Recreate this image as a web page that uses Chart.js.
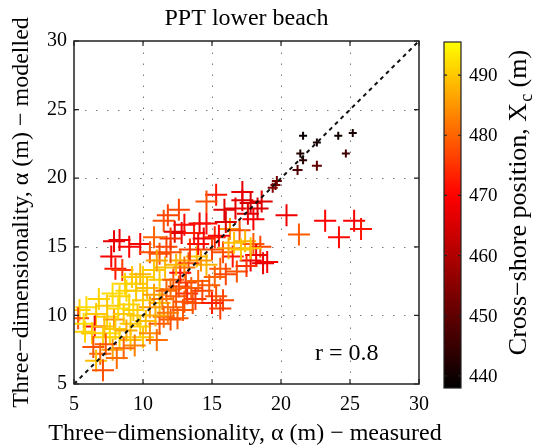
<!DOCTYPE html>
<html>
<head>
<meta charset="utf-8">
<script src="https://cdn.jsdelivr.net/npm/chart.js@4.4.0/dist/chart.umd.min.js"></script>
<style>
  html, body { margin: 0; padding: 0; background: #fff; }
  #wrap { width: 538px; height: 445px; position: relative; }
</style>
</head>
<body>
<div id="wrap"><canvas id="chart"></canvas></div>
<script>
// measured vs modelled three-dimensionality (m), coloured by cross-shore position Xc (m)
var measured = [
  15.3, 14.6, 17.2, 17.8, 16.7, 17.6, 12.6, 11.5, 11.8, 14.1,
  14.6, 12.3, 12.8, 13.7, 14.4, 15.2, 16.3, 17.0, 17.4, 18.0,
  18.5, 18.2, 18.7, 19.0, 17.8, 16.5, 15.8, 15.0, 13.9, 14.6,
  15.6, 13.3, 12.7, 12.0, 11.2, 11.6, 10.8, 10.0, 9.5, 8.8,
  8.3, 11.2, 12.2, 12.7, 11.7, 12.4, 13.2, 13.6, 12.9, 12.2,
  11.2, 10.5, 10.0, 15.3, 15.8, 15.0, 15.6, 7.9, 8.3, 9.8,
  7.7, 8.0, 8.5, 10.5, 11.7, 9.5, 5.4, 5.9, 6.6, 7.4,
  7.9, 8.6, 9.3, 5.3, 5.7, 6.5, 6.3, 7.1, 6.4, 6.9,
  6.6, 7.1, 7.6, 8.3, 9.1, 10.0, 9.8, 10.5, 11.2, 12.0,
  11.5, 11.0, 9.1, 5.8, 10.3, 10.8, 11.4, 12.0, 12.6, 13.1,
  13.5, 14.0, 14.3, 13.8, 13.0, 12.5, 11.8, 10.9, 10.2, 9.6,
  9.0, 8.2, 7.4, 6.8, 7.2, 8.0, 8.8, 9.4, 8.6, 7.8,
  7.3, 8.1, 14.8, 15.2, 16.0, 16.8, 17.5, 16.2, 17.1, 14.2,
  13.0, 12.4, 11.0, 9.8, 9.2, 8.7, 7.8, 13.4, 14.0, 15.5,
  16.0, 13.0, 12.0, 10.8, 9.0, 18.3, 18.6, 17.2, 18.0, 16.6,
  17.8, 15.9, 20.4, 21.3, 23.2, 24.2, 25.3, 25.8, 19.7, 19.4,
  19.6, 21.6, 22.6, 24.15, 25.2, 21.4, 21.6, 24.7, 21.2, 22.6
];
var modelled = [
  18.8, 18.3, 18.4, 18.2, 17.8, 17.4, 17.7, 16.9, 17.3, 16.7,
  16.7, 16.1, 16.0, 16.0, 15.6, 15.7, 16.3, 16.2, 15.4, 15.2,
  15.0, 14.4, 13.8, 13.9, 14.0, 14.3, 14.6, 14.8, 14.3, 13.7,
  13.4, 13.8, 14.0, 14.6, 14.5, 13.5, 13.3, 12.8, 12.3, 11.8,
  11.4, 12.6, 12.6, 13.1, 11.8, 11.4, 11.6, 10.9, 10.4, 10.6,
  10.9, 10.6, 11.1, 11.4, 11.1, 10.9, 10.5, 15.4, 15.5, 15.2,
  14.3, 13.4, 13.3, 14.6, 15.0, 11.8, 10.4, 10.6, 10.1, 9.9,
  9.7, 10.1, 10.4, 9.8, 9.4, 9.2, 8.7, 8.4, 7.7, 7.2,
  6.7, 6.0, 8.7, 8.4, 8.2, 8.4, 9.2, 8.7, 9.4, 9.7,
  9.9, 8.2, 9.4, 8.8, 12.0, 11.5, 11.2, 11.9, 12.1, 12.4,
  12.0, 12.5, 11.8, 11.2, 11.0, 9.8, 10.2, 10.0, 9.6, 10.0,
  10.8, 10.5, 10.7, 11.2, 9.2, 9.0, 8.9, 7.8, 7.6, 7.5,
  7.9, 6.9, 12.2, 12.8, 13.0, 13.2, 13.6, 14.9, 14.8, 14.0,
  13.5, 13.7, 14.0, 13.0, 12.8, 12.3, 11.6, 14.8, 15.2, 15.8,
  16.8, 16.6, 15.6, 15.7, 15.0, 17.8, 18.3, 19.0, 17.0, 15.3,
  14.9, 17.7, 17.3, 15.9, 16.9, 15.7, 16.9, 16.3, 19.8, 19.3,
  19.5, 23.1, 22.6, 23.1, 23.3, 21.8, 21.3, 21.8, 20.6, 20.9
];
var crossShore = [
  472, 478, 466, 465, 467, 466, 477, 478, 477, 467,
  471, 466, 467, 473, 468, 474, 485, 478, 488, 479,
  477, 468, 467, 469, 468, 472, 478, 477, 489, 488,
  479, 478, 487, 478, 478, 489, 490, 491, 490, 492,
  491, 490, 479, 472, 480, 479, 474, 478, 479, 480,
  489, 485, 490, 478, 477, 473, 476, 467, 468, 469,
  469, 472, 476, 478, 477, 490, 491, 492, 490, 491,
  485, 490, 491, 478, 492, 468, 490, 491, 478, 480,
  489, 478, 492, 491, 489, 490, 491, 484, 479, 478,
  480, 481, 490, 491, 489, 486, 482, 481, 478, 476,
  479, 480, 477, 476, 478, 479, 482, 487, 489, 490,
  491, 492, 490, 491, 489, 490, 487, 483, 480, 486,
  479, 481, 479, 480, 477, 478, 475, 486, 490, 485,
  482, 488, 486, 488, 490, 491, 492, 476, 471, 470,
  466, 471, 475, 480, 470, 465, 466, 467, 469, 489,
  490, 466, 468, 479, 470, 471, 469, 472, 452, 455,
  453, 439, 441, 440, 441, 442, 443, 446, 448, 450
];
var axisTicks = [5, 10, 15, 20, 25, 30];
var oneToOne = [5, 30];
var colorTicks = [440, 450, 460, 470, 480, 490];
var colorRange = [438, 495.5];
var rValue = 0.8;

var serif = '"Liberation Serif", "DejaVu Serif", serif';

// truncated "hot" colormap: black -> red -> yellow
function hotColor(v) {
  var t = (v - colorRange[0]) / (colorRange[1] - colorRange[0]);
  t = Math.max(0, Math.min(1, t));
  var r = Math.min(1, t / 0.557);
  var g = Math.max(0, (t - 0.557) / 0.443);
  return 'rgb(' + Math.round(r * 255) + ',' + Math.round(g * 255) + ',0)';
}
function crossSize(v) {
  if (v < 447) return 4;
  if (v < 458) return 5;
  return 11;
}

var points = measured.map(function (x, i) { return { x: x, y: modelled[i] }; });
var colors = crossShore.map(hotColor);
var sizes = crossShore.map(crossSize);

// colorbar box (pixels)
var cb = { left: 444, right: 461, top: 42, bottom: 388 };
function cbPixel(v) {
  return cb.bottom - (v - colorRange[0]) / (colorRange[1] - colorRange[0]) * (cb.bottom - cb.top);
}

var decorPlugin = {
  id: 'decor',
  beforeDatasetsDraw: function (chart) {
    var ctx = chart.ctx, a = chart.chartArea;
    var xs = chart.scales.x, ys = chart.scales.y;
    ctx.save();
    ctx.strokeStyle = '#7a7a7a';
    ctx.lineWidth = 1;
    ctx.setLineDash([1.5, 9.5]);
    axisTicks.forEach(function (t) {
      if (t === axisTicks[0] || t === axisTicks[axisTicks.length - 1]) return;
      var px = Math.round(xs.getPixelForValue(t)) + 0.5;
      ctx.beginPath(); ctx.moveTo(px, a.bottom); ctx.lineTo(px, a.top); ctx.stroke();
      var py = Math.round(ys.getPixelForValue(t)) + 0.5;
      ctx.beginPath(); ctx.moveTo(a.left, py); ctx.lineTo(a.right, py); ctx.stroke();
    });
    ctx.restore();
  },
  afterDraw: function (chart) {
    var ctx = chart.ctx, a = chart.chartArea;
    var xs = chart.scales.x, ys = chart.scales.y;
    ctx.save();
    // axes box and inward ticks
    ctx.strokeStyle = '#222';
    ctx.lineWidth = 1.5;
    ctx.strokeRect(a.left, a.top, a.right - a.left, a.bottom - a.top);
    ctx.lineWidth = 1.2;
    axisTicks.forEach(function (t) {
      var px = xs.getPixelForValue(t), py = ys.getPixelForValue(t);
      ctx.beginPath();
      ctx.moveTo(px, a.bottom); ctx.lineTo(px, a.bottom - 5);
      ctx.moveTo(px, a.top); ctx.lineTo(px, a.top + 5);
      ctx.moveTo(a.left, py); ctx.lineTo(a.left + 5, py);
      ctx.moveTo(a.right, py); ctx.lineTo(a.right - 5, py);
      ctx.stroke();
    });

    // title and axis titles
    ctx.fillStyle = '#000';
    ctx.font = '24px ' + serif;
    ctx.textAlign = 'center';
    ctx.textBaseline = 'alphabetic';
    ctx.fillText('PPT lower beach', (a.left + a.right) / 2, 25);
    ctx.fillText('Three\u2212dimensionality, \u03b1 (m) \u2212 measured', 245, 440);
    ctx.save();
    ctx.translate(28, (a.top + a.bottom) / 2);
    ctx.rotate(-Math.PI / 2);
    ctx.fillText('Three\u2212dimensionality, \u03b1 (m) \u2212 modelled', 0, 0);
    ctx.restore();

    // correlation note
    ctx.textAlign = 'left';
    ctx.fillText('r = ' + rValue, 315, 360);

    // colorbar
    var grad = ctx.createLinearGradient(0, cb.bottom, 0, cb.top);
    for (var i = 0; i <= 40; i++) {
      var v = colorRange[0] + (colorRange[1] - colorRange[0]) * i / 40;
      grad.addColorStop(i / 40, hotColor(v));
    }
    ctx.fillStyle = grad;
    ctx.fillRect(cb.left, cb.top, cb.right - cb.left, cb.bottom - cb.top);
    ctx.strokeStyle = '#222';
    ctx.lineWidth = 1.2;
    ctx.strokeRect(cb.left, cb.top, cb.right - cb.left, cb.bottom - cb.top);
    ctx.fillStyle = '#000';
    ctx.font = '19px ' + serif;
    ctx.textBaseline = 'middle';
    colorTicks.forEach(function (t) {
      var py = cbPixel(t);
      ctx.beginPath();
      ctx.moveTo(cb.left, py); ctx.lineTo(cb.left + 3, py);
      ctx.moveTo(cb.right, py); ctx.lineTo(cb.right - 3, py);
      ctx.stroke();
      ctx.fillText(String(t), 469, py + 1);
    });

    // colorbar label with subscript
    ctx.save();
    ctx.translate(526, 203);
    ctx.rotate(-Math.PI / 2);
    ctx.textBaseline = 'alphabetic';
    var main = 'Cross\u2212shore position, X', sub = 'c', tail = ' (m)';
    ctx.font = '26px ' + serif;
    var w1 = ctx.measureText(main).width, w3 = ctx.measureText(tail).width;
    ctx.font = '18px ' + serif;
    var w2 = ctx.measureText(sub).width;
    var x0 = -(w1 + w2 + w3) / 2;
    ctx.font = '26px ' + serif;
    ctx.fillText(main, x0, 0);
    ctx.font = '18px ' + serif;
    ctx.fillText(sub, x0 + w1 + 1, 6);
    ctx.font = '26px ' + serif;
    ctx.fillText(tail, x0 + w1 + w2 + 1, 0);
    ctx.restore();

    ctx.restore();
  }
};

new Chart(document.getElementById('chart'), {
  type: 'scatter',
  data: {
    datasets: [{
      type: 'line',
      data: [{ x: oneToOne[0], y: oneToOne[0] }, { x: oneToOne[1], y: oneToOne[1] }],
      borderColor: '#111',
      borderWidth: 2,
      borderDash: [4, 4],
      pointRadius: 0,
      fill: false,
      order: 0
    }, {
      data: points,
      pointStyle: 'cross',
      pointRadius: sizes,
      pointHoverRadius: sizes,
      pointBorderWidth: 2,
      pointBorderColor: colors,
      pointBackgroundColor: colors,
      clip: 0,
      order: 1
    }]
  },
  options: {
    responsive: true,
    maintainAspectRatio: false,
    animation: false,
    events: [],
    layout: { padding: { top: 41, right: 119, left: 0, bottom: 0 } },
    plugins: { legend: { display: false }, tooltip: { enabled: false }, title: { display: false } },
    scales: {
      x: {
        type: 'linear', min: 5, max: 30,
        afterFit: function (s) { s.height = 61; },
        afterBuildTicks: function (s) { s.ticks = axisTicks.map(function (v) { return { value: v }; }); },
        grid: { display: false, drawTicks: false },
        border: { display: false },
        ticks: { color: '#000', padding: 9, font: { family: serif, size: 20 } }
      },
      y: {
        type: 'linear', min: 5, max: 30,
        afterFit: function (s) { s.width = 74; },
        afterBuildTicks: function (s) { s.ticks = axisTicks.map(function (v) { return { value: v }; }); },
        grid: { display: false, drawTicks: false },
        border: { display: false },
        ticks: { color: '#000', padding: 7, font: { family: serif, size: 20 } }
      }
    }
  },
  plugins: [decorPlugin]
});
</script>
</body>
</html>
